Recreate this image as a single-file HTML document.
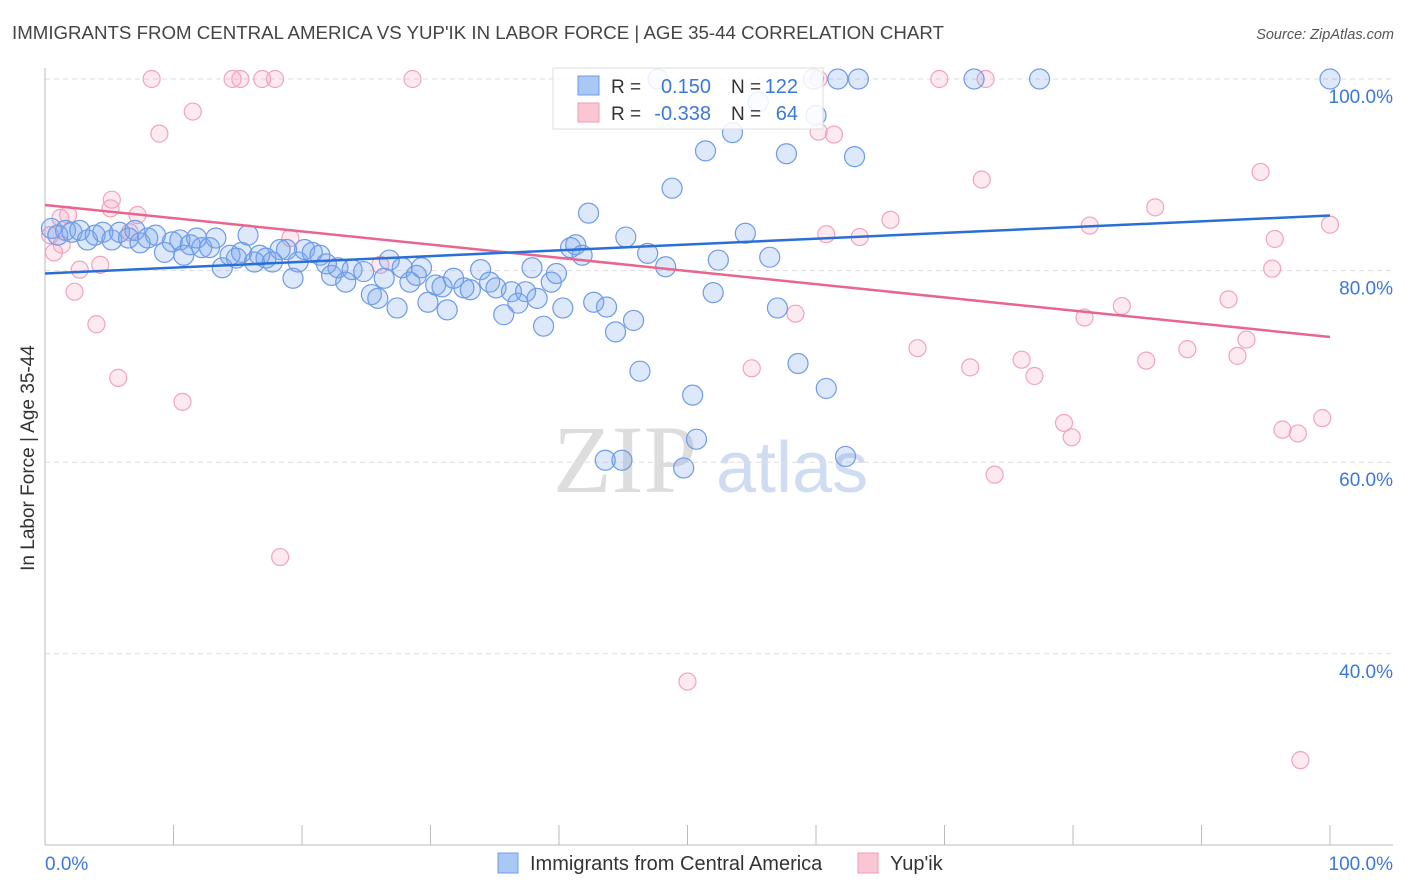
<!DOCTYPE html>
<html><head><meta charset="utf-8"><style>
body{margin:0;background:#fff;font-family:"Liberation Sans",sans-serif;}
svg{display:block}
</style></head><body>
<svg id="chart" width="1406" height="892" xmlns="http://www.w3.org/2000/svg">
<text x="12" y="39" font-size="18.7" fill="#444">IMMIGRANTS FROM CENTRAL AMERICA VS YUP'IK IN LABOR FORCE | AGE 35-44 CORRELATION CHART</text>
<text x="1394" y="39" font-size="14.5" fill="#555" font-style="italic" text-anchor="end">Source: ZipAtlas.com</text>
<g>
<text x="553" y="492" font-size="96" font-family="Liberation Serif,serif" fill="#ddd">ZIP</text>
<text x="716" y="492" font-size="72" fill="#cfdcf2">atlas</text>
</g>
<g id="grid"></g><g id="axes"></g><g id="pts"></g><g id="lines"></g>
<text x="34" y="458" font-size="19" fill="#333" transform="rotate(-90 34 458)" text-anchor="middle">In Labor Force | Age 35-44</text>
<g>
<rect x="553" y="68" width="270" height="61" fill="#fff" fill-opacity="0.85" stroke="#ddd"/>
<rect x="578" y="76" width="21" height="19" fill="#aac8f5" stroke="#6d9be8"/>
<text x="611" y="93" font-size="19" fill="#333">R = </text><text x="711" y="93" font-size="20" fill="#3b78d8" text-anchor="end">0.150</text>
<text x="731" y="93" font-size="19" fill="#333">N = </text><text x="798" y="93" font-size="20" fill="#3b78d8" text-anchor="end">122</text>
<rect x="578" y="103" width="21" height="19" fill="#fbc6d4" stroke="#f09ab3"/>
<text x="611" y="120" font-size="19" fill="#333">R = </text><text x="711" y="120" font-size="20" fill="#3b78d8" text-anchor="end">-0.338</text>
<text x="731" y="120" font-size="19" fill="#333">N = </text><text x="798" y="120" font-size="20" fill="#3b78d8" text-anchor="end">64</text>
</g>
<g>
<rect x="498" y="853" width="20" height="20" fill="#aac8f5" stroke="#6d9be8"/>
<text x="530" y="870" font-size="20" fill="#333">Immigrants from Central America</text>
<rect x="858" y="853" width="20" height="20" fill="#fbc6d4" stroke="#f09ab3"/>
<text x="890" y="870" font-size="20" fill="#333">Yup'ik</text>
</g>
</svg>
<script>
const blueX=[0.5,1.0,1.6,2.1,2.7,3.3,3.9,4.5,5.2,5.8,6.5,7.0,7.4,8.0,8.6,9.3,9.9,10.5,10.8,11.3,11.8,12.2,12.8,13.3,13.8,14.4,14.9,15.3,15.8,16.3,16.7,17.2,17.7,18.3,18.8,19.3,19.7,20.2,20.8,21.4,21.9,22.3,22.8,23.4,23.9,24.8,25.4,25.9,26.4,26.8,27.4,27.8,28.4,28.9,29.3,29.8,30.4,30.9,31.3,31.8,32.6,33.1,33.9,34.6,35.1,35.7,36.3,36.8,37.4,37.9,38.3,38.8,39.4,39.8,40.3,40.9,41.3,41.8,42.3,42.7,43.7,44.4,45.2,45.8,46.3,46.9,48.3,48.8,50.4,50.7,51.4,52.0,52.4,53.5,54.5,55.5,56.4,57.0,57.7,58.6,59.8,60.0,60.8,61.7,62.3,63.0,63.3,72.3,77.4,100,43.6,44.9,49.7,47.7];
const blueY=[84.4,83.7,84.2,84.0,84.2,83.2,83.7,84.0,83.2,84.0,83.4,84.2,82.9,83.4,83.7,81.9,83.0,83.2,81.6,82.7,83.4,82.4,82.4,83.4,80.3,81.6,81.3,81.9,83.7,80.9,81.6,81.3,80.9,82.2,82.2,79.2,80.9,82.2,81.9,81.6,80.7,79.5,80.3,78.8,80.1,79.9,77.5,77.1,79.2,81.1,76.1,80.3,78.8,79.5,80.3,76.7,78.5,78.3,75.9,79.2,78.2,78.0,80.1,78.8,78.2,75.4,77.8,76.6,77.8,80.3,77.1,74.2,78.8,79.7,76.1,82.4,82.7,81.6,86.0,76.7,76.2,73.6,83.5,74.8,69.5,81.8,80.4,88.6,67.0,62.4,92.5,77.7,81.1,94.4,83.9,97.6,81.4,76.1,92.2,70.3,100,96.2,67.7,100,60.6,91.9,100,100,100,100,60.2,60.2,59.4,100];
const pinkX=[0.7,1.3,2.3,2.7,4.0,4.3,5.1,5.2,5.7,6.6,7.2,8.3,8.9,10.7,11.5,14.6,15.2,16.9,17.9,18.3,19.1,26.1,28.6,50.0,55.0,58.4,60.2,60.2,60.8,61.4,63.4,65.8,67.9,69.6,72.0,72.9,73.2,73.9,76.0,77.0,79.3,79.9,80.9,81.3,83.8,85.7,86.4,88.9,92.1,92.8,93.5,94.6,95.5,95.7,96.3,97.5,97.7,99.4,100,0.4,1.2,1.8];
const pinkY=[81.9,82.7,77.8,80.1,74.4,80.6,86.5,87.4,68.8,84.0,85.8,100,94.3,66.3,96.6,100,100,100,100,50.1,83.4,80.6,100,37.1,69.8,75.5,100,94.5,83.8,94.2,83.5,85.3,71.9,100,69.9,89.5,100,58.7,70.7,69.0,64.1,62.6,75.1,84.7,76.3,70.6,86.6,71.8,77.0,71.1,72.8,90.3,80.2,83.3,63.4,63.0,28.9,64.6,84.8,83.7,85.5,85.8];
const blueTrend=[79.7,85.75];
const pinkTrend=[86.85,73.07];
const yTicks=[100,80,60,40];
const yTickLabels=["100.0%","80.0%","60.0%","40.0%"];
const xTicks=[0,10,20,30,40,50,60,70,80,90,100];
const NS="http://www.w3.org/2000/svg";
const X=v=>45+v*12.85, Y=v=>79+(100-v)*9.58;
function mk(p,t,a){const e=document.createElementNS(NS,t);for(const k in a)e.setAttribute(k,a[k]);p.appendChild(e);return e;}
const grid=document.getElementById('grid'),axes=document.getElementById('axes'),pts=document.getElementById('pts'),lines=document.getElementById('lines');
yTicks.forEach((v,i)=>{
 const l=mk(grid,'line',{x1:45,x2:1393,y1:Y(v),y2:Y(v),stroke:'#ddd','stroke-dasharray':'5,4'});
 
 
 const t=mk(axes,'text',{x:1393,y:Y(v)+24,'font-size':19,fill:'#3b78d8','text-anchor':'end'});t.textContent=yTickLabels[i];
 
 
});
let a=mk(axes,'line',{x1:45,x2:45,y1:68,y2:845,stroke:'#bbb'});


a=mk(axes,'line',{x1:45,x2:1393,y1:845,y2:845,stroke:'#bbb'});


xTicks.forEach(v=>{const t=mk(axes,'line',{x1:X(v),x2:X(v),y1:825,y2:845,stroke:'#bbb'});
 
 });
let t=mk(axes,'text',{x:45,y:870,'font-size':19,fill:'#3b78d8'});t.textContent='0.0%';


t=mk(axes,'text',{x:1393,y:870,'font-size':19,fill:'#3b78d8','text-anchor':'end'});t.textContent='100.0%';


pinkX.forEach((x,i)=>{const c=mk(pts,'circle',{cx:X(x),cy:Y(pinkY[i]),r:8.5,fill:'rgba(244,150,178,0.2)',stroke:'#f2a3bb','stroke-width':1.2});
 
 });
blueX.forEach((x,i)=>{const c=mk(pts,'circle',{cx:X(x),cy:Y(blueY[i]),r:10,fill:'rgba(120,165,235,0.25)',stroke:'#6d9be8','stroke-width':1.2});
 
 });
let L=mk(lines,'line',{x1:X(0),x2:X(100),y1:Y(pinkTrend[0]),y2:Y(pinkTrend[1]),stroke:'#e8658f','stroke-width':2.5});


L=mk(lines,'line',{x1:X(0),x2:X(100),y1:Y(blueTrend[0]),y2:Y(blueTrend[1]),stroke:'#2a6fd8','stroke-width':2.5});


</script>
</body></html>
